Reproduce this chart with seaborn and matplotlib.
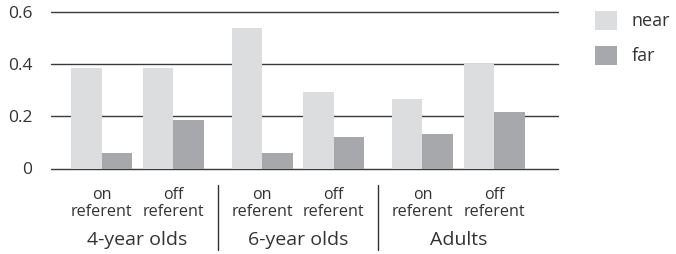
import matplotlib
matplotlib.use("Agg")
import matplotlib.pyplot as plt
import seaborn as sns
import pandas as pd
import numpy as np
from matplotlib.patches import Patch
from matplotlib.lines import Line2D

# ---- data ----
groups = ["4-year olds", "6-year olds", "Adults"]
conditions = ["on\nreferent", "off\nreferent"]
near = [0.384, 0.384, 0.537, 0.292, 0.266, 0.398]
far = [0.058, 0.185, 0.058, 0.122, 0.132, 0.216]
series = ["near", "far"]
yticks = [0, 0.2, 0.4, 0.6]
ytick_labels = ["0", "0.2", "0.4", "0.6"]

# ---- layout ----
GROUP_STEP = 2.24
positions = [g * GROUP_STEP + c for g in range(len(groups)) for c in range(len(conditions))]

rows = []
for i, p in enumerate(positions):
    rows.append({"pos": p, "value": near[i], "distance": "near"})
    rows.append({"pos": p, "value": far[i], "distance": "far"})
df = pd.DataFrame(rows)

sns.set_theme(style="white")
plt.rcParams["font.family"] = ["Open Sans", "DejaVu Sans"]
TEXT = "#333333"

W, H = 676, 254
fig = plt.figure(figsize=(W / 100, H / 100), dpi=100)
ax_left, ax_right, ax_top, ax_bottom = 51, 558, 11.5, 168.5
ax = fig.add_axes([ax_left / W, 1 - ax_bottom / H, (ax_right - ax_left) / W, (ax_bottom - ax_top) / H])

colors = {"near": "#dcdddf", "far": "#a7a8ab"}
sns.barplot(data=df, x="pos", y="value", hue="distance", hue_order=series,
            native_scale=True, width=0.852, palette=colors, saturation=1,
            linewidth=0, edgecolor="none", legend=False, ax=ax, errorbar=None)

px_unit = 71.6
ax.set_xlim((ax_left - 101.7) / px_unit, (ax_right - 101.7) / px_unit)
ax.set_ylim(0, 0.6)
for s in ax.spines.values():
    s.set_visible(False)
ax.set_axisbelow(True)
for y in yticks:
    ax.axhline(y, color="#3a3a3a", lw=1.0, zorder=0.5, clip_on=False)

ax.set_yticks(yticks)
ax.set_yticklabels(ytick_labels)
ax.tick_params(axis="y", length=0, pad=13.5, labelsize=12.5, labelcolor=TEXT)
ax.set_xticks(positions)
ax.set_xticklabels(conditions * len(groups), linespacing=1.15)
ax.tick_params(axis="x", length=0, pad=13, labelsize=11.6, labelcolor=TEXT)
ax.set_xlabel("")
ax.set_ylabel("")

# group labels
trans = matplotlib.transforms.blended_transform_factory(ax.transData, fig.transFigure)
for g, name in enumerate(groups):
    cx = g * GROUP_STEP + 0.5
    ax.text(cx, 1 - 240 / H, name, transform=trans, ha="center", va="center",
            fontsize=14, color=TEXT)
# separators
for g in range(1, len(groups)):
    sx = g * GROUP_STEP - (GROUP_STEP - 1) / 2
    ax.add_line(Line2D([sx, sx], [1 - 185 / H, 1 - 250 / H], transform=trans,
                       color="#333333", lw=1.0, clip_on=False))

handles = [Patch(facecolor=colors[s], edgecolor="none", label=s) for s in series]
fig.legend(handles=handles, loc="upper left", bbox_to_anchor=(595 / W, 1 - 11 / H),
           frameon=False, fontsize=13, handlelength=1.22, handleheight=1.22,
           labelspacing=0.85, handletextpad=0.8, borderpad=0, borderaxespad=0,
           labelcolor=TEXT)

fig.savefig("out.png", dpi=100)
